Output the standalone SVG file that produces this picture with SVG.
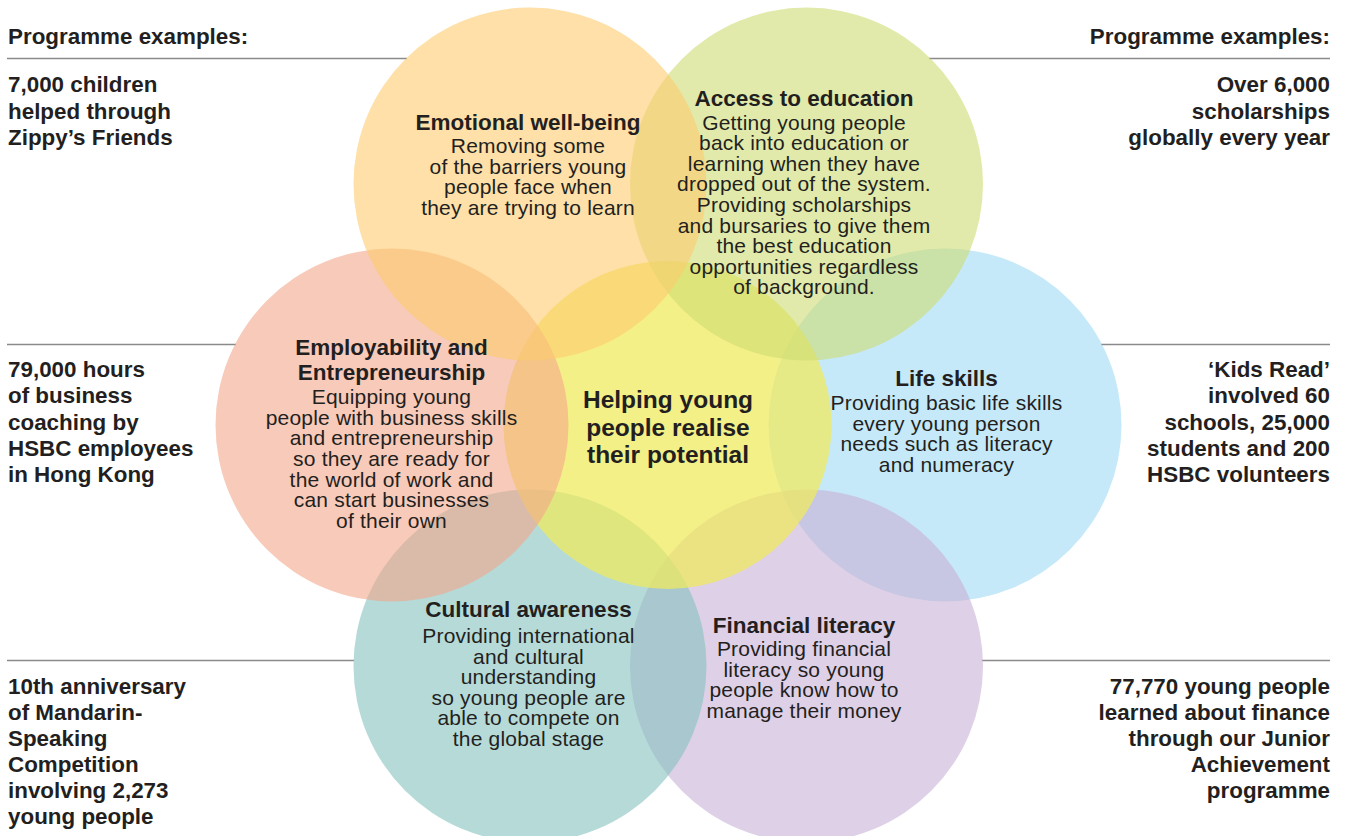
<svg xmlns="http://www.w3.org/2000/svg" width="1346" height="836" viewBox="0 0 1346 836">
<style>
.c{opacity:0.6}
.side{font-family:"Liberation Sans",Arial,sans-serif;font-weight:bold;font-size:22.4px;fill:#231F20}
.r{text-anchor:end}
.t{font-family:"Liberation Sans",Arial,sans-serif;font-weight:bold;font-size:22.5px;fill:#231F20;text-anchor:middle}
.b{font-family:"Liberation Sans",Arial,sans-serif;font-size:21px;letter-spacing:0.2px;fill:#231F20;text-anchor:middle}
.m{font-family:"Liberation Sans",Arial,sans-serif;font-weight:bold;font-size:24.5px;fill:#231F20;text-anchor:middle}
.ln{stroke:#8a8a8a;stroke-width:1.5;fill:none}
</style>
<rect width="1346" height="836" fill="#ffffff"/>
<g id="connectors">
<line class="ln" x1="7" y1="58.5" x2="407" y2="58.5"/>
<line class="ln" x1="929" y1="58.5" x2="1330" y2="58.5"/>
<line class="ln" x1="7" y1="344.5" x2="236" y2="344.5"/>
<line class="ln" x1="1101" y1="344.5" x2="1330" y2="344.5"/>
<line class="ln" x1="7" y1="660.5" x2="354" y2="660.5"/>
<line class="ln" x1="982" y1="660.5" x2="1330" y2="660.5"/>
</g>
<g id="circles">
<circle id="c-life" class="c" cx="945" cy="425" r="176.5" fill="#A0DAF5"/>
<circle id="c-financial" class="c" cx="806.5" cy="666" r="176.5" fill="#C8B1D5"/>
<circle id="c-cultural" class="c" cx="530" cy="666" r="176.5" fill="#84C1BE"/>
<circle id="c-center" cx="667.5" cy="425" r="164" fill="#F0EA5C" opacity="0.73"/>
<circle id="c-access" class="c" cx="806.5" cy="184" r="176.5" fill="#CDDC71"/>
<circle id="c-employ" class="c" cx="392" cy="425" r="176.5" fill="#F3A78A"/>
<circle id="c-emotional" class="c" cx="530" cy="184" r="176.5" fill="#FDCB6E"/>
</g>
<g id="left-side">
<text class="side" x="8" y="44">Programme examples:</text>
<text class="side" x="8" y="92">7,000 children</text>
<text class="side" x="8" y="118.5">helped through</text>
<text class="side" x="8" y="145">Zippy’s Friends</text>
<text class="side" x="8" y="377">79,000 hours</text>
<text class="side" x="8" y="403">of business</text>
<text class="side" x="8" y="429.5">coaching by</text>
<text class="side" x="8" y="456">HSBC employees</text>
<text class="side" x="8" y="482">in Hong Kong</text>
<text class="side" x="8" y="694">10th anniversary</text>
<text class="side" x="8" y="720">of Mandarin-</text>
<text class="side" x="8" y="746">Speaking</text>
<text class="side" x="8" y="772">Competition</text>
<text class="side" x="8" y="798">involving 2,273</text>
<text class="side" x="8" y="824">young people</text>
</g>
<g id="right-side">
<text class="side r" x="1330" y="44">Programme examples:</text>
<text class="side r" x="1330" y="92">Over 6,000</text>
<text class="side r" x="1330" y="118.5">scholarships</text>
<text class="side r" x="1330" y="145">globally every year</text>
<text class="side r" x="1330" y="377">‘Kids Read’</text>
<text class="side r" x="1330" y="403">involved 60</text>
<text class="side r" x="1330" y="429.5">schools, 25,000</text>
<text class="side r" x="1330" y="456">students and 200</text>
<text class="side r" x="1330" y="482">HSBC volunteers</text>
<text class="side r" x="1330" y="694">77,770 young people</text>
<text class="side r" x="1330" y="720">learned about finance</text>
<text class="side r" x="1330" y="746">through our Junior</text>
<text class="side r" x="1330" y="772">Achievement</text>
<text class="side r" x="1330" y="798">programme</text>
</g>
<g id="emotional">
<text class="t" x="528" y="130">Emotional well-being</text>
<text class="b" x="528" y="153">Removing some</text>
<text class="b" x="528" y="173.5">of the barriers young</text>
<text class="b" x="528" y="194">people face when</text>
<text class="b" x="528" y="215">they are trying to learn</text>
</g>
<g id="access">
<text class="t" x="804" y="106">Access to education</text>
<text class="b" x="804" y="129.5">Getting young people</text>
<text class="b" x="804" y="150">back into education or</text>
<text class="b" x="804" y="170.7">learning when they have</text>
<text class="b" x="804" y="191.3">dropped out of the system.</text>
<text class="b" x="804" y="212">Providing scholarships</text>
<text class="b" x="804" y="232.5">and bursaries to give them</text>
<text class="b" x="804" y="253">the best education</text>
<text class="b" x="804" y="273.5">opportunities regardless</text>
<text class="b" x="804" y="294">of background.</text>
</g>
<g id="employability">
<text class="t" x="391.5" y="355">Employability and</text>
<text class="t" x="391.5" y="379.5">Entrepreneurship</text>
<text class="b" x="391.5" y="404">Equipping young</text>
<text class="b" x="391.5" y="424.5">people with business skills</text>
<text class="b" x="391.5" y="445">and entrepreneurship</text>
<text class="b" x="391.5" y="466">so they are ready for</text>
<text class="b" x="391.5" y="486.5">the world of work and</text>
<text class="b" x="391.5" y="507">can start businesses</text>
<text class="b" x="391.5" y="527.5">of their own</text>
</g>
<g id="life">
<text class="t" x="946.5" y="386">Life skills</text>
<text class="b" x="946.5" y="410">Providing basic life skills</text>
<text class="b" x="946.5" y="430.7">every young person</text>
<text class="b" x="946.5" y="451.3">needs such as literacy</text>
<text class="b" x="946.5" y="472">and numeracy</text>
</g>
<g id="center">
<text class="m" x="668" y="408">Helping young</text>
<text class="m" x="668" y="436">people realise</text>
<text class="m" x="668" y="463">their potential</text>
</g>
<g id="cultural">
<text class="t" x="528.5" y="617">Cultural awareness</text>
<text class="b" x="528.5" y="642.5">Providing international</text>
<text class="b" x="528.5" y="663.5">and cultural</text>
<text class="b" x="528.5" y="684">understanding</text>
<text class="b" x="528.5" y="704.5">so young people are</text>
<text class="b" x="528.5" y="725">able to compete on</text>
<text class="b" x="528.5" y="745.5">the global stage</text>
</g>
<g id="financial">
<text class="t" x="804" y="633">Financial literacy</text>
<text class="b" x="804" y="656">Providing financial</text>
<text class="b" x="804" y="676.5">literacy so young</text>
<text class="b" x="804" y="697">people know how to</text>
<text class="b" x="804" y="717.5">manage their money</text>
</g>
</svg>
